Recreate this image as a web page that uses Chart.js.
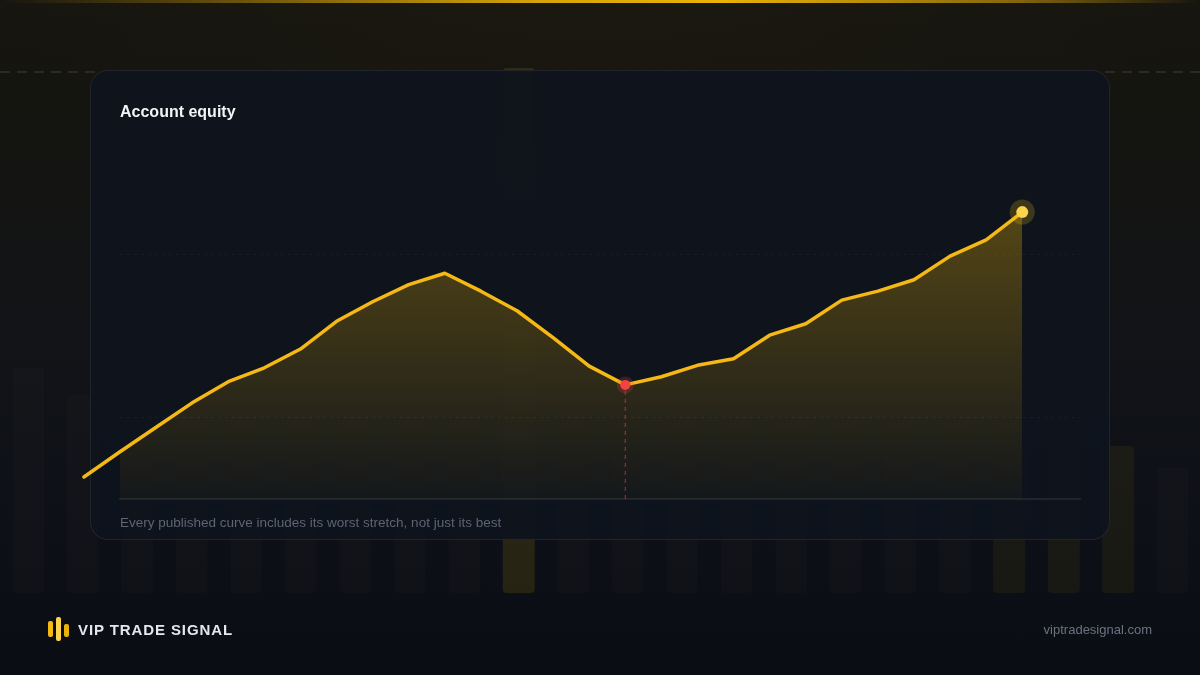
<!DOCTYPE html>
<html>
<head>
<meta charset="utf-8">
<script src="https://cdn.jsdelivr.net/npm/chart.js@4.4.1/dist/chart.umd.min.js"></script>
<style>
  html, body { margin:0; padding:0; width:1200px; height:675px; overflow:hidden; background:#0b0e15;
    font-family:"Liberation Sans", Arial, Helvetica, sans-serif; }
  #bg { position:absolute; left:0; top:0; width:1200px; height:675px;
    background:
      radial-gradient(ellipse 700px 240px at 50% 0%, rgba(234,179,8,0.025), rgba(234,179,8,0) 100%),
      linear-gradient(180deg, #16150f 0%, #141410 18%, #111318 55%, #0c0f16 85%, #0a0d14 100%); }
  #topline { position:absolute; left:0; top:0; width:1200px; height:3px;
    background:linear-gradient(90deg, rgba(234,179,8,0) 0%, rgba(234,179,8,0.35) 18%, rgba(234,179,8,0.9) 45%, #eab308 60%, rgba(234,179,8,0.5) 85%, rgba(234,179,8,0) 100%); }
  #dash { position:absolute; left:0; top:71px; width:1200px; height:2px;
    background:repeating-linear-gradient(90deg, rgba(255,255,255,0.09) 0px, rgba(255,255,255,0.09) 10px, rgba(0,0,0,0) 10px, rgba(0,0,0,0) 17px); }
  .layer { position:absolute; left:0; top:0; width:1200px; height:675px; }
  #card { position:absolute; left:90px; top:70px; width:1018px; height:468px;
    border:1px solid rgba(255,255,255,0.08); border-radius:18px; background:rgba(14,19,29,0.94); }
  #title { position:absolute; left:120px; top:103px; line-height:18px; font-size:16px; font-weight:bold; color:#f3f4f6; }
  #note { position:absolute; left:120px; top:515px; line-height:16px; font-size:13.5px; color:#5d6472; }
  #brand { position:absolute; left:78px; top:621px; line-height:18px; font-size:15px; font-weight:bold; color:#e5e7eb; letter-spacing:0.9px; }
  #site { position:absolute; right:48px; top:622px; line-height:16px; font-size:13px; color:#6b7280; }
  .lb { position:absolute; border-radius:2px; }
</style>
</head>
<body>
<div id="bg"></div>
<div id="topline"></div>
<div id="dash"></div>
<div class="layer"><canvas id="bgChart" width="1200" height="675"></canvas></div>
<div id="card"></div>
<div id="title">Account equity</div>
<div id="note">Every published curve includes its worst stretch, not just its best</div>
<div class="layer"><canvas id="mainChart" width="1200" height="675"></canvas></div>
<div class="lb" style="left:48px;top:621px;width:5px;height:16px;background:#f5b914;"></div>
<div class="lb" style="left:56px;top:617px;width:5px;height:24px;background:#fcd34d;"></div>
<div class="lb" style="left:64px;top:624px;width:5px;height:13px;background:#eab308;"></div>
<div id="brand">VIP TRADE SIGNAL</div>
<div id="site">viptradesignal.com</div>

<script>
// ---------- data ----------
const weeks = ['W1','W2','W3','W4','W5','W6','W7','W8','W9','W10','W11','W12','W13','W14',
               'W15','W16','W17','W18','W19','W20','W21','W22','W23','W24','W25','W26','W27'];
const equity = [10270,10580,10880,11180,11440,11610,11840,12180,12420,12630,12770,12550,12310,11980,
                11630,11400,11500,11640,11720,12010,12150,12440,12550,12690,12980,13180,13520];
const yTicks = [11000, 13000];
const yMin = 10000;
const yMax = 14000;
const xMin = 1;
const xMax = 27.6;

// decorative background bars
const bgLabels = ['b1','b2','b3','b4','b5','b6','b7','b8','b9','b10','b11','b12','b13','b14','b15','b16','b17','b18','b19','b20','b21','b22'];
const bgValues = [225,198,173,193,183,213,233,293,413,525,333,293,313,443,273,293,323,343,363,393,147,125];
const bgLevel  = [0,0,0,0,0,0,0,0,0,2,0,0,0,0,0,0,0,0,1,1,1,0];

// ---------- background bars ----------
new Chart(document.getElementById('bgChart'), {
  type: 'bar',
  data: {
    labels: bgLabels,
    datasets: [{
      data: bgValues,
      backgroundColor: bgLevel.map(l => l === 2 ? 'rgba(234,179,8,0.13)' : l === 1 ? 'rgba(234,179,8,0.06)' : 'rgba(210,180,110,0.025)'),
      borderRadius: 4,
      borderSkipped: false,
      barPercentage: 0.587,
      categoryPercentage: 1
    }]
  },
  options: {
    responsive: false, animation: false, devicePixelRatio: 1,
    layout: { padding: { left: 1, right: 0, top: 68, bottom: 82 } },
    plugins: { legend: { display: false }, tooltip: { enabled: false } },
    scales: {
      x: { display: false, offset: true },
      y: { display: false, min: 0, max: 525 }
    }
  }
});

// ---------- main equity chart ----------
let peak = -Infinity, worst = 0, troughIdx = 0;
equity.forEach((v, i) => { peak = Math.max(peak, v); if (v - peak < worst) { worst = v - peak; troughIdx = i; } });
const lastIdx = equity.length - 1;

const markers = {
  id: 'markers',
  afterDatasetsDraw(chart) {
    const ctx = chart.ctx;
    const pts = chart.getDatasetMeta(0).data;
    const area = chart.chartArea;
    const t = pts[troughIdx], e = pts[lastIdx];
    ctx.save();
    ctx.setLineDash([4, 4]);
    ctx.strokeStyle = 'rgba(239,68,68,0.55)';
    ctx.lineWidth = 1.2;
    ctx.beginPath(); ctx.moveTo(t.x, t.y + 6); ctx.lineTo(t.x, area.bottom); ctx.stroke();
    ctx.setLineDash([]);
    ctx.fillStyle = 'rgba(239,68,68,0.22)';
    ctx.beginPath(); ctx.arc(t.x, t.y, 8.5, 0, Math.PI * 2); ctx.fill();
    ctx.fillStyle = '#ef4444';
    ctx.beginPath(); ctx.arc(t.x, t.y, 5, 0, Math.PI * 2); ctx.fill();
    ctx.fillStyle = 'rgba(250,204,21,0.2)';
    ctx.beginPath(); ctx.arc(e.x, e.y, 12.5, 0, Math.PI * 2); ctx.fill();
    ctx.fillStyle = '#fcd34d';
    ctx.beginPath(); ctx.arc(e.x, e.y, 6, 0, Math.PI * 2); ctx.fill();
    ctx.restore();
  }
};

new Chart(document.getElementById('mainChart'), {
  type: 'line',
  data: {
    labels: weeks,
    datasets: [{
      data: equity.map((v, i) => ({ x: i, y: v })),
      borderColor: '#f5b814',
      borderWidth: 3.5,
      borderJoinStyle: 'round',
      borderCapStyle: 'round',
      tension: 0,
      pointRadius: 0,
      clip: false,
      fill: 'start',
      backgroundColor: (c) => {
        const ch = c.chart, area = ch.chartArea;
        if (!area) return 'rgba(234,179,8,0.15)';
        const g = ch.ctx.createLinearGradient(0, area.top, 0, area.bottom);
        g.addColorStop(0, 'rgba(234,179,8,0.36)');
        g.addColorStop(1, 'rgba(234,179,8,0.03)');
        return g;
      }
    }]
  },
  options: {
    responsive: false, animation: false, devicePixelRatio: 1,
    layout: { padding: { left: 120, right: 120, top: 173, bottom: 176 } },
    plugins: { legend: { display: false }, tooltip: { enabled: false } },
    scales: {
      x: {
        type: 'linear', min: xMin, max: xMax,
        grid: { display: false, drawTicks: false },
        ticks: { display: false },
        border: { display: true, color: 'rgba(255,255,255,0.08)', width: 2 }
      },
      y: {
        min: yMin, max: yMax,
        afterBuildTicks: (s) => { s.ticks = yTicks.map(v => ({ value: v })); },
        grid: { color: 'rgba(255,255,255,0.045)', drawTicks: false },
        border: { display: false, dash: [3, 4] },
        ticks: { display: false }
      }
    }
  },
  plugins: [markers]
});
</script>
</body>
</html>
